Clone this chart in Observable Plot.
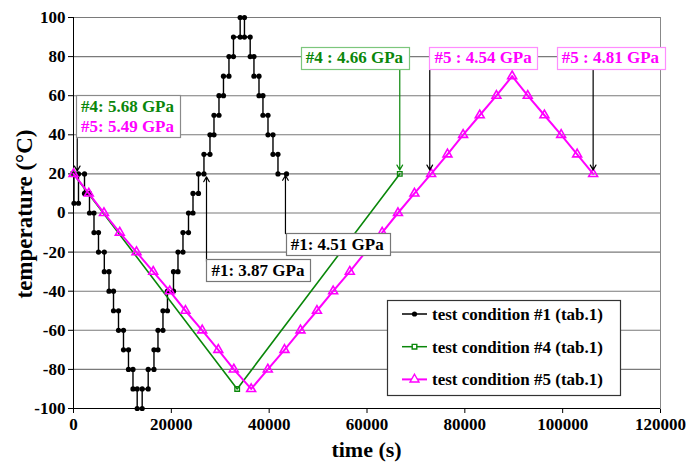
<!DOCTYPE html>
<html><head><meta charset="utf-8">
<script src="https://cdn.jsdelivr.net/npm/d3@7"></script>
<script src="https://cdn.jsdelivr.net/npm/@observablehq/plot@0.6"></script>
<style>body{margin:0;background:#fff} svg{display:block}</style>
</head><body><div id="chart"></div>
<script>
// ---- data ----
const xTicks = [0, 20000, 40000, 60000, 80000, 100000, 120000];
const yTicks = [-100, -80, -60, -40, -20, 0, 20, 40, 60, 80, 100];

// test condition #1: temperature plateaus and the times at which they switch
const blackLevels = [20,5,20,10,0,-10,-20,-30,-40,-50,-60,-70,-80,-90,-100,-90,-80,-70,-60,-50,-40,-30,-20,-10,0,10,20,30,40,50,60,70,80,90,100,90,80,70,60,50,40,30,20];
const blackSwitchTimes = [0,100,1020,2250,3270,4190,5110,6300,7260,8180,9200,10220,11240,12160,13020,14040,15270,16450,17270,18290,19210,20440,21360,22380,23510,24430,25550,26670,27900,28720,29740,30660,31780,32700,34070,34950,36120,36890,37920,38730,39760,40780,41800,43540];

// test condition #4
const greenTime = [0, 33460, 66700];
const greenTemp = [20, -90, 20];

// test condition #5
const pinkTime = [0,3130,6230,9460,12880,16290,19680,22890,26310,29600,32770,36320,39720,43130,46400,49770,53080,56480,59690,63100,66330,69700,73110,76450,79650,83050,86460,89670,92860,96270,99690,102960,106230];
const pinkTemp = [20,10,0,-10,-20,-30,-40,-50,-60,-70,-80,-90,-80,-70,-60,-50,-40,-30,-20,-10,0,10,20,30,40,50,60,70,60,50,40,30,20];

const seriesNames = ["test condition #1 (tab.1)", "test condition #4 (tab.1)", "test condition #5 (tab.1)"];
const xLabel = "time (s)";
const yLabel = "temperature (°C)";

const annoLabels = ["#4: 5.68 GPa", "#5: 5.49 GPa", "#1: 3.87 GPa", "#1: 4.51 GPa", "#4 : 4.66 GPa", "#5 : 4.54 GPa", "#5 : 4.81 GPa"];

// ---- styling / layout ----
const FONT = "'Liberation Serif','Times New Roman',serif";
const BLACK = "#000000", GREEN = "#0a870a", MAGENTA = "#ff00ff";

const black = blackLevels.flatMap((T, i) => [{t: blackSwitchTimes[i], T}, {t: blackSwitchTimes[i + 1], T}]);
const green = greenTime.map((t, i) => ({t, T: greenTemp[i]}));
const pink = pinkTime.map((t, i) => ({t, T: pinkTemp[i]}));

// annotation texts placed in data coordinates
const annoText = [
  {g: "b1", text: annoLabels[0], t: 11040, T: 54.5, color: GREEN},
  {g: "b1", text: annoLabels[1], t: 11040, T: 44.2, color: MAGENTA},
  {g: "b2", text: annoLabels[2], t: 37710, T: -29.4, color: BLACK},
  {g: "b3", text: annoLabels[3], t: 53900, T: -16.1, color: BLACK},
  {g: "b4", text: annoLabels[4], t: 57440, T: 79.4, color: GREEN},
  {g: "b5", text: annoLabels[5], t: 83740, T: 79.4, color: MAGENTA},
  {g: "b6", text: annoLabels[6], t: 109770, T: 79.4, color: MAGENTA}
];
const boxStroke = {b1: "#8a8a8a", b2: "#777", b3: "#777", b4: "#7cc67c", b5: "#ff8cff", b6: "#ff8cff"};
const arrows = [
  {t: 760, from: 38.1, to: 21.5, color: BLACK},
  {t: 27190, from: -24.8, to: 18.5, color: BLACK},
  {t: 43330, from: -10.5, to: 19.2, color: BLACK},
  {t: 66700, from: 73.3, to: 22, color: GREEN},
  {t: 72830, from: 73.3, to: 22, color: BLACK},
  {t: 106230, from: 73.3, to: 22, color: BLACK}
];

const svg = Plot.plot({
  width: 697, height: 463,
  marginLeft: 73, marginRight: 37, marginTop: 17, marginBottom: 55,
  style: {fontFamily: FONT, fontSize: "17px", fontWeight: "bold", color: "#000", background: "#fff", overflow: "visible"},
  x: {domain: [0, 120000], ticks: xTicks, tickFormat: d => String(d), label: null, tickSize: 5, tickPadding: 4},
  y: {domain: [-100, 100], ticks: yTicks, tickFormat: d => String(d), label: null, tickSize: 5, tickPadding: 3},
  color: {type: "identity"},
  marks: [
    Plot.frame({stroke: "#888"}),
    Plot.ruleY(yTicks, {stroke: "#7a7a7a", strokeWidth: 1.1}),
    Plot.ruleX([0], {stroke: "#000"}),
    Plot.ruleY([-100], {stroke: "#000"}),
    Plot.line(black, {x: "t", y: "T", stroke: BLACK, strokeWidth: 1.4}),
    Plot.dot(black, {x: "t", y: "T", r: 2.6, fill: BLACK}),
    Plot.line(green, {x: "t", y: "T", stroke: GREEN, strokeWidth: 1.6}),
    Plot.dot(green, {x: "t", y: "T", symbol: "square", r: 2.6, stroke: GREEN, strokeWidth: 1.3, fill: "none"}),
    Plot.line(pink, {x: "t", y: "T", stroke: MAGENTA, strokeWidth: 2}),
    Plot.dot(pink, {x: "t", y: "T", symbol: "triangle", r: 3.3, stroke: MAGENTA, strokeWidth: 1.6, fill: "none"}),
    Plot.arrow(arrows, {x1: "t", y1: "from", x2: "t", y2: "to", stroke: "color", strokeWidth: 1.2, headLength: 7}),
    Plot.text(annoText, {x: "t", y: "T", text: "text", fill: "color", textAnchor: "middle", lineAnchor: "middle",
      fontSize: 17, fontWeight: "bold", fontFamily: FONT})
  ]
});
document.getElementById("chart").append(svg);

// ---- annotation boxes behind the texts ----
const sRect = svg.getBoundingClientRect();
const texts = Array.from(svg.querySelectorAll("text"));
let textG = null;
const boxes = [];
for (const [g, rows] of d3.group(annoText, d => d.g)) {
  const els = texts.filter(el => rows.some(r => r.text === el.textContent));
  let x0 = Infinity, y0 = Infinity, x1 = -Infinity, y1 = -Infinity;
  for (const el of els) {
    const b = el.getBoundingClientRect();
    x0 = Math.min(x0, b.left - sRect.left); x1 = Math.max(x1, b.right - sRect.left);
    y0 = Math.min(y0, b.top - sRect.top); y1 = Math.max(y1, b.bottom - sRect.top);
    textG = el.parentNode;
  }
  boxes.push({g, x0: x0 - 5, y0: y0 - 1.5, x1: x1 + 5, y1: y1 + 1.5});
}
const boxG = document.createElementNS("http://www.w3.org/2000/svg", "g");
textG.parentNode.insertBefore(boxG, textG);
d3.select(boxG).selectAll("rect").data(boxes).join("rect")
  .attr("x", d => Math.round(d.x0) + 0.5).attr("y", d => Math.round(d.y0) + 0.5)
  .attr("width", d => Math.round(d.x1 - d.x0)).attr("height", d => Math.round(d.y1 - d.y0))
  .attr("fill", "#fff").attr("stroke", d => boxStroke[d.g]).attr("stroke-width", 1.2);

// ---- legend ----
const S = d3.select(svg);
const lg = S.append("g").attr("text-anchor", "start");
lg.append("rect").attr("x", 387.5).attr("y", 300.5).attr("width", 233).attr("height", 95)
  .attr("fill", "#fff").attr("stroke", "#333").attr("stroke-width", 1.2);
const legendStyles = [
  {color: BLACK, sym: "circle"}, {color: GREEN, sym: "square"}, {color: MAGENTA, sym: "triangle"}
];
seriesNames.forEach((name, i) => {
  const y = 314 + i * 32.7, st = legendStyles[i];
  lg.append("line").attr("x1", 402).attr("x2", 427).attr("y1", y).attr("y2", y)
    .attr("stroke", st.color).attr("stroke-width", i === 2 ? 2 : 1.5);
  if (st.sym === "circle") lg.append("circle").attr("cx", 414.5).attr("cy", y).attr("r", 2.6).attr("fill", BLACK);
  else {
    const r = st.sym === "square" ? 2.6 : 3.3;
    lg.append("path").attr("transform", `translate(414.5,${y})`)
      .attr("d", d3.symbol(st.sym === "square" ? d3.symbolSquare : d3.symbolTriangle, r * r * Math.PI)())
      .attr("fill", "#fff").attr("stroke", st.color).attr("stroke-width", 1.4);
  }
  lg.append("text").attr("x", 432).attr("y", y).attr("dy", "0.35em").attr("fill", "#000")
    .attr("text-anchor", "start")
    .attr("font-family", FONT).attr("font-size", 17).attr("font-weight", "bold").text(name);
});

// ---- axis titles ----
S.append("text").attr("x", 366.5).attr("y", 457).attr("text-anchor", "middle")
  .attr("font-family", FONT).attr("font-size", 22).attr("font-weight", "bold").attr("fill", "#000").text(xLabel);
S.append("text").attr("transform", "translate(24,214) rotate(-90)").attr("text-anchor", "middle").attr("dy", "0.35em")
  .attr("font-family", FONT).attr("font-size", 23).attr("font-weight", "bold").attr("fill", "#000").text(yLabel);
</script></body></html>
